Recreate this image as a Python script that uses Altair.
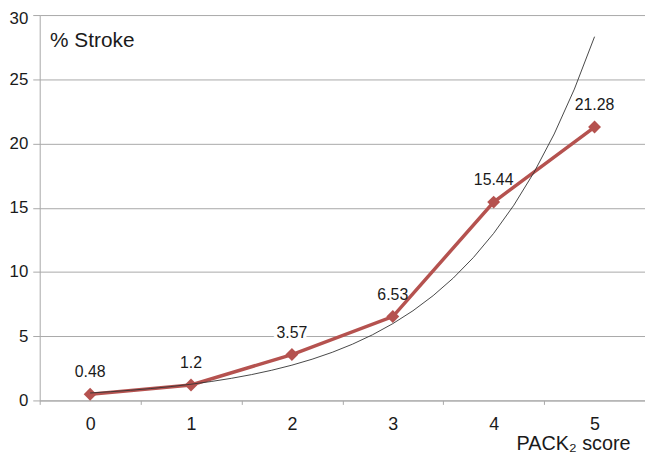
import altair as alt
import pandas as pd

# ---- data ----
scores = [0, 1, 2, 3, 4, 5]
stroke_pct = [0.48, 1.2, 3.57, 6.53, 15.44, 21.28]
y_ticks = [0, 5, 10, 15, 20, 25, 30]
band_edges = [-0.5, 0.5, 1.5, 2.5, 3.5, 4.5, 5.5]

df = pd.DataFrame({"score": scores, "pct": stroke_pct})

RED = "#b5524f"
GRID = "#a8a8a8"
TXT = "#1a1a1a"
FONT = "Liberation Sans"

x_scale = alt.Scale(domain=[band_edges[0], band_edges[-1]], nice=False, zero=False)
y_scale = alt.Scale(domain=[y_ticks[0], y_ticks[-1]], nice=False)

x_axis = alt.Axis(
    values=sorted(band_edges + scores),
    labelExpr="datum.value % 1 === 0 ? format(datum.value, 'd') : ''",
    tickOpacity={"condition": {"test": "datum.value % 1 !== 0", "value": 1}, "value": 0},
    tickSize=4, tickColor=GRID, tickWidth=1,
    domain=True, domainColor=GRID, domainWidth=1,
    grid=False,
    labelFont=FONT, labelFontSize=18, labelColor=TXT, labelPadding=11,
    labelFlush=False, labelOverlap=False,
    title="PACK₂ score", titleFont=FONT, titleFontSize=20, titleFontWeight="normal",
    titleColor=TXT, titleX=596, titleY=50, titleAlign="right", titleBaseline="alphabetic",
)

y_axis = alt.Axis(
    values=y_ticks,
    grid=True, gridColor=GRID, gridWidth=1,
    tickSize=7, tickColor=GRID, tickWidth=1,
    domain=True, domainColor=GRID, domainWidth=1,
    labelFont=FONT, labelFontSize=17, labelColor=TXT, labelPadding=5,
    labelOffset={"condition": {"test": f"datum.value === {y_ticks[-1]}", "value": 4}, "value": 0},
    labelFlush=False, labelOverlap=False,
    title="% Stroke", titleFont=FONT, titleFontSize=21, titleFontWeight="normal",
    titleColor=TXT, titleAngle=0, titleX=10, titleY=32, titleAlign="left",
    titleBaseline="alphabetic",
)

base = alt.Chart(df)

x_enc = alt.X("score:Q", scale=x_scale, axis=x_axis)
y_enc = alt.Y("pct:Q", scale=y_scale, axis=y_axis)

halo = base.mark_text(
    dy=-22, font=FONT, fontSize=16, color="white", stroke="white", strokeWidth=7
).encode(x=x_enc, y=y_enc, text=alt.Text("pct:Q"))

line = base.mark_line(color=RED, strokeWidth=3.5).encode(x=x_enc, y=y_enc)

points = base.mark_point(
    shape="diamond", filled=True, size=170, color=RED, opacity=1
).encode(x=x_enc, y=y_enc)

labels = base.mark_text(dy=-22, font=FONT, fontSize=16, color=TXT).encode(
    x=x_enc, y=y_enc, text=alt.Text("pct:Q")
)

trend = (
    base.transform_calculate(ly="log(datum.pct)")
    .transform_regression("score", "ly", method="poly", order=1,
                          extent=[scores[0], scores[-1]])
    .transform_calculate(pct="exp(datum.ly)")
    .mark_line(color="#333333", strokeWidth=0.9)
    .encode(x=x_enc, y=y_enc)
)

chart = (
    alt.layer(halo, line, points, labels, trend)
    .properties(
        width=611,
        height=389,
        autosize=alt.AutoSizeParams(type="none"),
        padding={"left": 32, "top": 5, "right": 0, "bottom": 57},
        background="white",
    )
    .configure_view(stroke=None)
)

chart.save("out.html", embed_options={"renderer": "svg", "actions": False})
